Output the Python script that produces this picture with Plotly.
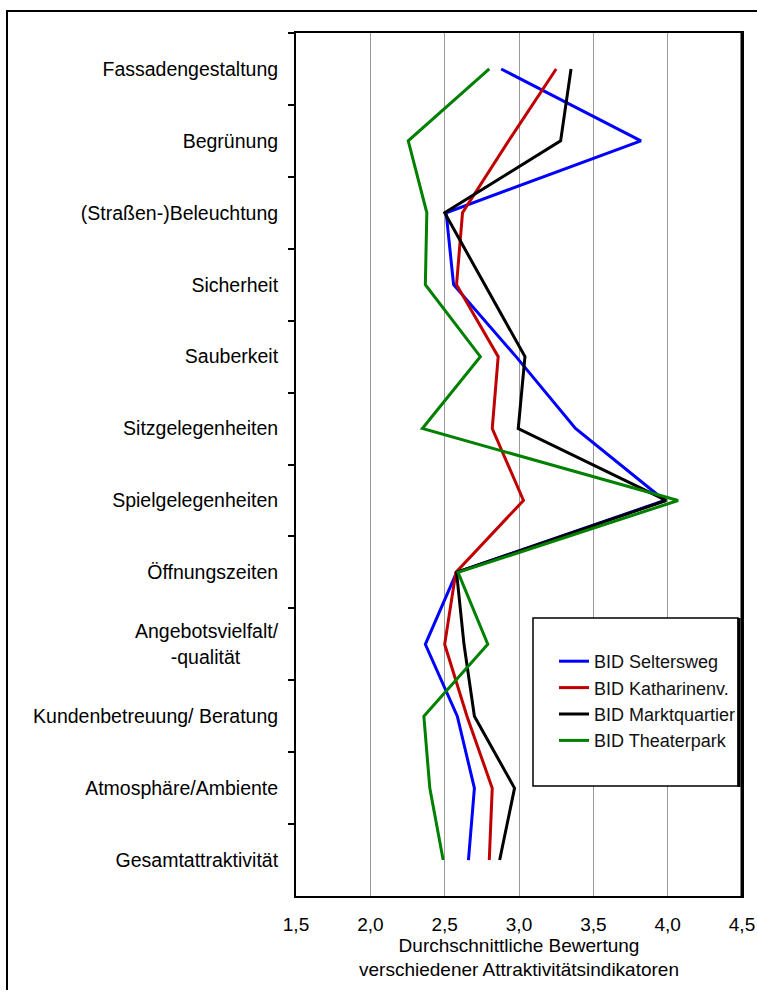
import plotly.graph_objects as go

categories = [
    "Fassadengestaltung",
    "Begrünung",
    "(Straßen-)Beleuchtung",
    "Sicherheit",
    "Sauberkeit",
    "Sitzgelegenheiten",
    "Spielgelegenheiten",
    "Öffnungszeiten",
    "Angebotsvielfalt/<br>-qualität" + "\u00a0" * 7,
    "Kundenbetreuung/ Beratung",
    "Atmosphäre/Ambiente",
    "Gesamtattraktivität",
]

seltersweg = [2.88, 3.82, 2.51, 2.56, 2.98, 3.38, 3.98, 2.58, 2.37, 2.585, 2.70, 2.66]
katharinenv = [3.25, 2.93, 2.62, 2.58, 2.86, 2.82, 3.03, 2.575, 2.50, 2.65, 2.82, 2.80]
marktquartier = [3.35, 3.28, 2.50, 2.77, 3.04, 2.995, 3.99, 2.58, 2.63, 2.70, 2.97, 2.87]
theaterpark = [2.80, 2.255, 2.38, 2.37, 2.74, 2.35, 4.07, 2.59, 2.79, 2.36, 2.40, 2.49]

series_names = ["BID Seltersweg", "BID Katharinenv.", "BID Marktquartier", "BID Theaterpark"]
series_values = [seltersweg, katharinenv, marktquartier, theaterpark]
series_colors = ["#0000FF", "#C00000", "#000000", "#008000"]

x_tickvals = [1.5, 2.0, 2.5, 3.0, 3.5, 4.0, 4.5]
x_ticktext = ["1,5", "2,0", "2,5", "3,0", "3,5", "4,0", "4,5"]

FIG_W, FIG_H = 757, 990
L, R, T, B = 296, 742, 33, 896  # plot area in page pixels


def px(xp):
    return (xp - L) / (R - L)


def py(yp):
    return 1 - (yp - T) / (B - T)


FONT = "Liberation Sans, Arial, sans-serif"

fig = go.Figure()
for i, (name, vals, col) in enumerate(zip(series_names, series_values, series_colors)):
    fig.add_trace(go.Scatter(
        x=vals, y=categories, mode="lines", name=name,
        line=dict(color=col, width=3), legendgroup=f"g{i}",
    ))

shapes = [
    # outer frame (top and left edges; the rest lies outside the picture)
    dict(type="line", xref="paper", yref="paper",
         x0=px(6), x1=px(800), y0=py(11), y1=py(11),
         line=dict(color="black", width=2), layer="below"),
    dict(type="line", xref="paper", yref="paper",
         x0=px(7), x1=px(7), y0=py(1030), y1=py(10),
         line=dict(color="black", width=2), layer="below"),
    # thicker right plot edge
    dict(type="line", xref="paper", yref="paper",
         x0=1, x1=1, y0=0, y1=1,
         line=dict(color="black", width=3), layer="above"),
    # legend box
    dict(type="rect", xref="paper", yref="paper",
         x0=px(533), x1=px(738), y0=py(786), y1=py(618),
         line=dict(color="black", width=1.5), fillcolor="white", layer="above"),
    dict(type="line", xref="paper", yref="paper",
         x0=px(739), x1=px(739), y0=py(787), y1=py(618),
         line=dict(color="black", width=3), layer="above"),
]

fig.update_layout(
    width=FIG_W, height=FIG_H,
    margin=dict(l=L, r=FIG_W - R, t=T, b=FIG_H - B),
    paper_bgcolor="white", plot_bgcolor="white",
    font=dict(family=FONT, size=19, color="black"),
    showlegend=True,
    legend=dict(
        x=px(554), y=py(643), xanchor="left", yanchor="top",
        bgcolor="rgba(0,0,0,0)", borderwidth=0,
        font=dict(size=18, color="#111111"), tracegroupgap=0,
    ),
    shapes=shapes,
    xaxis=dict(
        range=[1.5, 4.5], tickvals=x_tickvals, ticktext=x_ticktext,
        showgrid=True, gridcolor="#9a9a9a", gridwidth=1,
        showline=True, linecolor="black", linewidth=2, mirror=True,
        ticks="", zeroline=False, ticklabelstandoff=10,
        tickfont=dict(size=19), automargin=False,
        title=dict(text="Durchschnittliche Bewertung<br>verschiedener Attraktivitätsindikatoren",
                   font=dict(size=19), standoff=2),
    ),
    yaxis=dict(
        type="category", categoryorder="array", categoryarray=categories,
        range=[11.5, -0.5], showgrid=False,
        showline=True, linecolor="black", linewidth=2, mirror=True,
        ticks="outside", ticklen=6, tickwidth=2, tickcolor="black",
        tickson="boundaries", ticklabelstandoff=12,
        tickfont=dict(size=19.5), automargin=False,
    ),
)

fig.write_html("out.html", config={"displayModeBar": False},
               post_script="document.body.style.margin='0';")
